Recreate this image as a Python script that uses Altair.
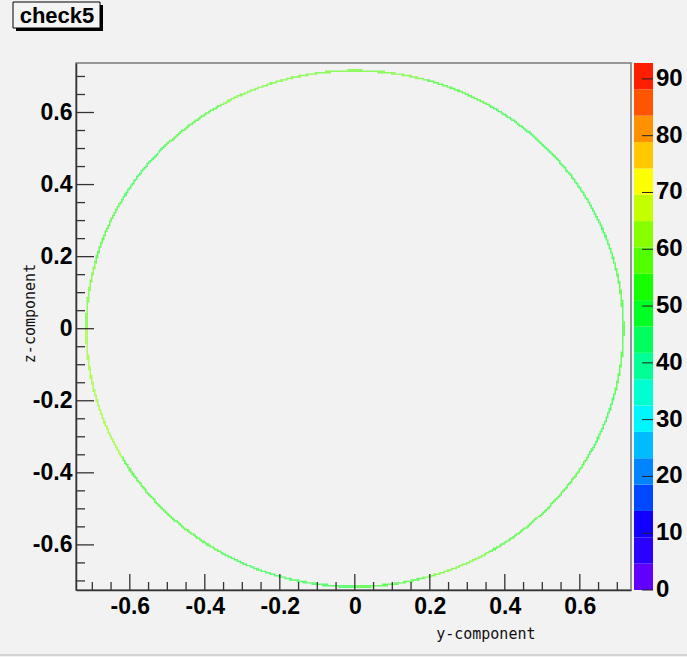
import numpy as np
import pandas as pd
import altair as alt

# ---- data -------------------------------------------------------------
# counts along the ring, one value per 15-degree sector, counter-clockwise from +y
sector_counts = [52, 50, 48, 51, 55, 57, 58, 56, 53, 50, 54, 60,
                 64, 61, 55, 52, 49, 51, 54, 57, 55, 52, 50, 53]
ring_radius = 0.716
bin_width = 0.004

x_range = [-0.7435, 0.7365]
y_range = [-0.7252, 0.7374]

major_ticks = [-0.6, -0.4, -0.2, 0, 0.2, 0.4, 0.6]
minor_step = 0.05

z_max = 92.8
n_levels = 20
palette = ["#6200ff", "#2a00ff", "#1100ff", "#0048ff", "#0084ff",
           "#00bbff", "#00f6ff", "#00ffd0", "#00ff95", "#00ff5e",
           "#00ff22", "#15ff00", "#51ff00", "#88ff00", "#c4ff00",
           "#fbff00", "#ffc800", "#ff9100", "#ff5500", "#ff1e00"]
z_labels = [0, 10, 20, 30, 40, 50, 60, 70, 80, 90]

# ---- geometry ---------------------------------------------------------
W, H = 555, 527
FONT = "Liberation Sans"
BG = "#f2f2f2"

# 2D histogram cells lying on the ring
edges = np.arange(x_range[0], x_range[1], bin_width)
centers = edges + bin_width / 2
gy, gz = np.meshgrid(centers, centers)
r = np.hypot(gy, gz)
on_ring = np.abs(r - ring_radius) < bin_width * 0.7
ang = (np.degrees(np.arctan2(gz, gy)) % 360.0)
sector = (ang // 15).astype(int) % 24
counts = np.array(sector_counts)[sector]
cells = pd.DataFrame({
    "y0": (gy - bin_width / 2)[on_ring],
    "y1": (gy + bin_width / 2)[on_ring],
    "z0": (gz - bin_width / 2)[on_ring],
    "z1": (gz + bin_width / 2)[on_ring],
    "count": counts[on_ring],
})

level_edges = [z_max * i / n_levels for i in range(n_levels + 1)]
color_scale = alt.Scale(type="threshold", domain=level_edges[1:-1], range=palette)

xs = alt.Scale(domain=x_range, nice=False, zero=False)
ys = alt.Scale(domain=y_range, nice=False, zero=False)

x_axis = alt.Axis(values=major_ticks, labelExpr="'' + datum.value", ticks=False,
                  grid=False, labelFont=FONT, labelFontWeight="bold", labelFontSize=23,
                  labelColor="#000", labelPadding=5, domainColor="#333", domainWidth=1.5,
                  title="y-component", titleFont="DejaVu Sans Mono", titleFontSize=15,
                  titleFontWeight="normal", titleColor="#111", titleAlign="right",
                  titleX=459, titleY=43, titleBaseline="middle", labelFlush=False)
y_axis = alt.Axis(values=major_ticks, labelExpr="'' + datum.value", ticks=False,
                  grid=False, labelFont=FONT, labelFontWeight="bold", labelFontSize=23,
                  labelColor="#000", labelPadding=4, domainColor="#333", domainWidth=1.5,
                  title="z-component", titleFont="DejaVu Sans Mono", titleFontSize=15,
                  titleFontWeight="normal", titleColor="#111", titleAngle=-90,
                  titleAlign="center", titleX=-47, titleY=250, titleBaseline="middle",
                  labelFlush=False)

ring = alt.Chart(cells).mark_rect(opacity=0.65).encode(
    x=alt.X("y0:Q", scale=xs, axis=x_axis),
    x2="y1:Q",
    y=alt.Y("z0:Q", scale=ys, axis=y_axis),
    y2="z1:Q",
    color=alt.Color("count:Q", scale=color_scale, legend=None),
)

# inward tick marks on the bottom and left axes
minor_vals = [round(v, 3) for v in np.arange(-0.7, 0.7001, minor_step)
              if all(abs(v - m) > 1e-6 for m in major_ticks)]
maj_df = pd.DataFrame({"v": major_ticks})
min_df = pd.DataFrame({"v": minor_vals})

def x_ticks(df, length):
    return alt.Chart(df).mark_rule(color="#333", strokeWidth=1.3).encode(
        x=alt.X("v:Q", scale=xs, axis=x_axis),
        y=alt.value(H), y2=alt.value(H - length))

def y_ticks(df, length):
    return alt.Chart(df).mark_rule(color="#333", strokeWidth=1.3).encode(
        y=alt.Y("v:Q", scale=ys, axis=y_axis),
        x=alt.value(0), x2=alt.value(length))

main = alt.layer(ring, x_ticks(maj_df, 16), x_ticks(min_df, 8),
                 y_ticks(maj_df, 18), y_ticks(min_df, 9))

# ---- colour bar -------------------------------------------------------
bands = pd.DataFrame({
    "lo": level_edges[:-1],
    "hi": level_edges[1:],
    "mid": [(a + b) / 2 for a, b in zip(level_edges[:-1], level_edges[1:])],
})
zs = alt.Scale(domain=[0, z_max], nice=False, zero=False)
bar = alt.Chart(bands).mark_rect().encode(
    y=alt.Y("lo:Q", scale=zs, axis=None), y2="hi:Q",
    x=alt.value(558), x2=alt.value(577),
    color=alt.Color("mid:Q", scale=color_scale, legend=None),
)
zlab_df = pd.DataFrame({"z": z_labels})
bar_ticks = alt.Chart(zlab_df).mark_rule(color="#222", strokeWidth=1).encode(
    y=alt.Y("z:Q", scale=zs, axis=None),
    x=alt.value(566), x2=alt.value(577),
)
bar_labels = alt.Chart(zlab_df).mark_text(
    font=FONT, fontWeight="bold", fontSize=24, align="left", baseline="middle",
    color="#000").encode(
    y=alt.Y("z:Q", scale=zs, axis=None),
    x=alt.value(580),
    text="z:Q",
)
colorbar = alt.layer(bar, bar_ticks, bar_labels)

# ---- title box --------------------------------------------------------
title_df = pd.DataFrame({"t": ["check5"]})
shadow = alt.Chart(title_df).mark_rect(color="#000").encode(
    x=alt.value(-60), x2=alt.value(27), y=alt.value(-58), y2=alt.value(-32))
box = alt.Chart(title_df).mark_rect(fill="#f4f4f4", stroke="#000", strokeWidth=1).encode(
    x=alt.value(-63), x2=alt.value(24), y=alt.value(-61), y2=alt.value(-35))
title_text = alt.Chart(title_df).mark_text(
    font=FONT, fontWeight="bold", fontSize=22, color="#000", align="center",
    baseline="middle").encode(x=alt.value(-19), y=alt.value(-47), text="t:N")
bottom_line = alt.Chart(title_df).mark_rule(color="#c8c8c8", strokeWidth=1.5).encode(
    x=alt.value(-76), x2=alt.value(611), y=alt.value(592))

chart = alt.layer(main, colorbar, shadow, box, title_text, bottom_line).resolve_scale(
    y="independent", x="independent"
).properties(
    width=W, height=H,
    autosize=alt.AutoSizeParams(type="none"),
    padding={"left": 76, "top": 63, "right": 56, "bottom": 67},
    background=BG,
).configure_view(
    stroke="#7a7a7a", strokeWidth=1.5, fill=BG
)

chart.save("out.html", embed_options={"renderer": "svg", "actions": False})
